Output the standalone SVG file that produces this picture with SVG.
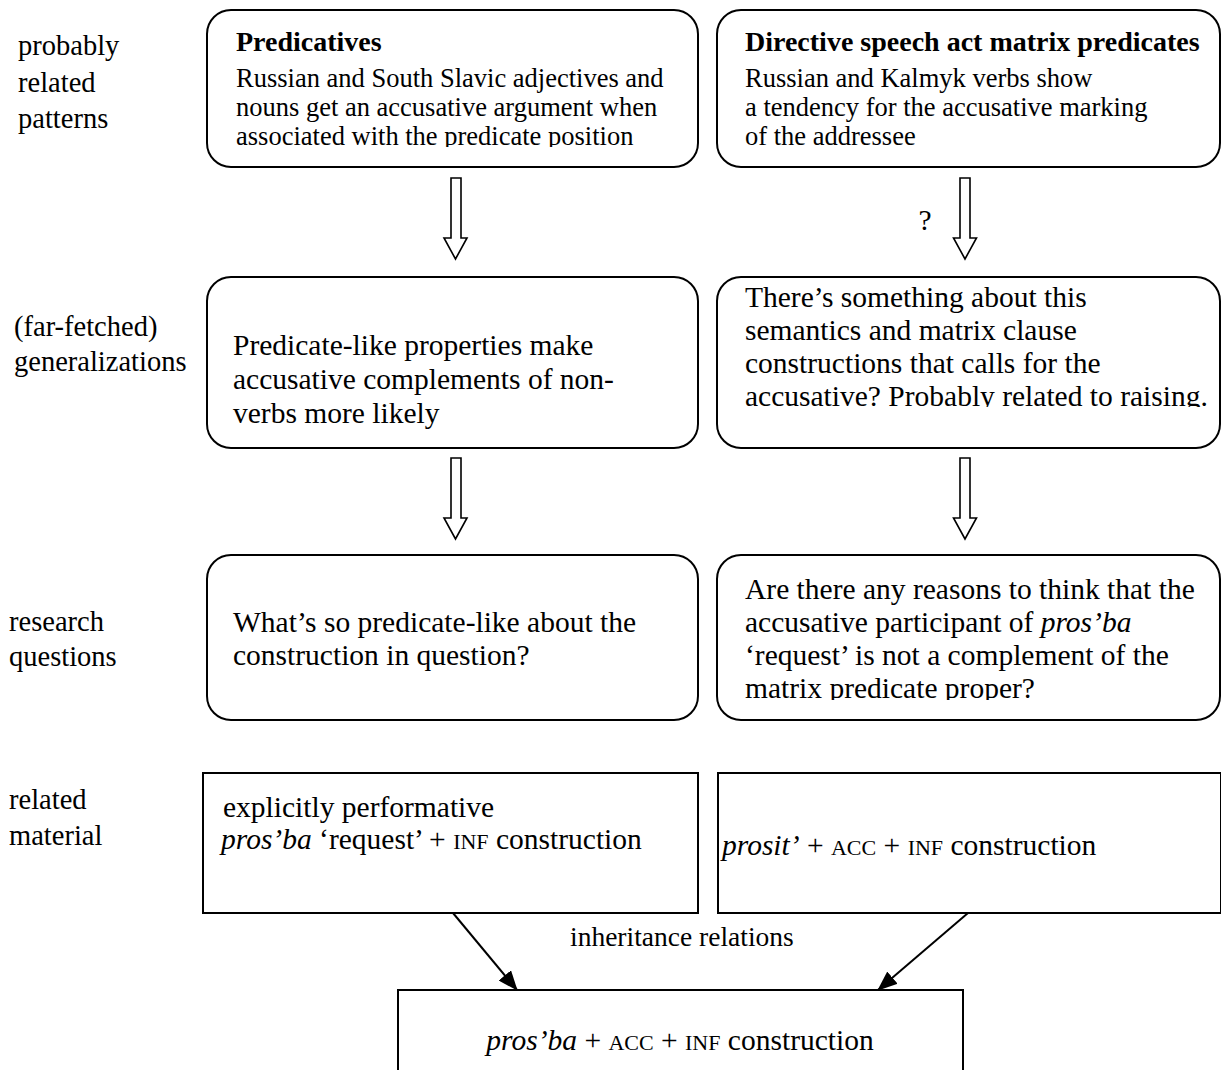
<svg xmlns="http://www.w3.org/2000/svg" width="1221" height="1070" viewBox="0 0 1221 1070">
<style>
text{font-family:"Liberation Serif","Times New Roman",serif;fill:#000}
.lbl{font-size:28.5px}
.hd{font-size:28px;font-weight:bold}
.sm{font-size:26.5px}
.md{font-size:29.5px}
.it{font-style:italic}
.sc{font-size:22px}
.sc2{font-size:20px}
.box{fill:#fff;stroke:#000;stroke-width:2}
.blk{fill:#fff;stroke:#000;stroke-width:1.6;stroke-linejoin:miter}
.ln{stroke:#000;stroke-width:2;fill:none}
</style>
<defs>
<marker id="ah" viewBox="0 0 10 10" refX="9" refY="5" markerWidth="10" markerHeight="10" markerUnits="userSpaceOnUse" orient="auto">
<path d="M0,0 L10,5 L0,10 Z" fill="#000"/>
</marker>
<marker id="ah2" viewBox="0 0 20 16" refX="19" refY="8" markerWidth="20" markerHeight="16" markerUnits="userSpaceOnUse" orient="auto">
<path d="M0,0 L20,8 L0,16 Z" fill="#000"/>
</marker>
<clipPath id="c1"><rect x="207" y="10" width="491" height="137"/></clipPath>
<clipPath id="c2"><rect x="717" y="277" width="504" height="130"/></clipPath>
<clipPath id="c3"><rect x="717" y="555" width="504" height="145"/></clipPath>
</defs>

<g id="labels">
<text class="lbl" x="18" y="55">probably</text>
<text class="lbl" x="18" y="92">related</text>
<text class="lbl" x="18" y="128">patterns</text>
<text class="lbl" x="14" y="336">(far-fetched)</text>
<text class="lbl" x="14" y="371">generalizations</text>
<text class="lbl" x="9" y="631">research</text>
<text class="lbl" x="9" y="666">questions</text>
<text class="lbl" x="9" y="809">related</text>
<text class="lbl" x="9" y="845">material</text>
</g>

<g id="n-predicatives">
<rect class="box" x="207" y="10" width="491" height="157" rx="24"/>
<g clip-path="url(#c1)">
<text class="hd" x="236" y="51">Predicatives</text>
<text class="sm" x="236" y="87">Russian and South Slavic adjectives and</text>
<text class="sm" x="236" y="116">nouns get an accusative argument when</text>
<text class="sm" x="236" y="145">associated with the predicate position</text>
</g>
</g>

<g id="n-directive">
<rect class="box" x="717" y="10" width="503" height="157" rx="24"/>
<text class="hd" x="745" y="51">Directive speech act matrix predicates</text>
<text class="sm" x="745" y="87">Russian and Kalmyk verbs show</text>
<text class="sm" x="745" y="116">a tendency for the accusative marking</text>
<text class="sm" x="745" y="145">of the addressee</text>
</g>

<g id="n-gen-left">
<rect class="box" x="207" y="277" width="491" height="171" rx="24"/>
<text class="md" x="233" y="355">Predicate-like properties make</text>
<text class="md" x="233" y="389">accusative complements of non-</text>
<text class="md" x="233" y="423">verbs more likely</text>
</g>

<g id="n-gen-right">
<rect class="box" x="717" y="277" width="503" height="171" rx="24"/>
<g clip-path="url(#c2)">
<text class="md" x="745" y="307">There’s something about this</text>
<text class="md" x="745" y="340">semantics and matrix clause</text>
<text class="md" x="745" y="373">constructions that calls for the</text>
<text class="md" x="745" y="406">accusative? Probably related to raising.</text>
</g>
</g>

<g id="n-rq-left">
<rect class="box" x="207" y="555" width="491" height="165" rx="24"/>
<text class="md" x="233" y="632">What’s so predicate-like about the</text>
<text class="md" x="233" y="665">construction in question?</text>
</g>

<g id="n-rq-right">
<rect class="box" x="717" y="555" width="503" height="165" rx="24"/>
<g clip-path="url(#c3)">
<text class="md" x="745" y="599">Are there any reasons to think that the</text>
<text class="md" x="745" y="632">accusative participant of <tspan class="it">pros’ba</tspan></text>
<text class="md" x="745" y="665">‘request’ is not a complement of the</text>
<text class="md" x="745" y="698">matrix predicate proper?</text>
</g>
</g>

<g id="n-mat-left">
<rect class="box" x="203" y="773" width="495" height="140"/>
<text class="md" x="223" y="817">explicitly performative</text>
<text class="md" x="221" y="849"><tspan class="it">pros’ba</tspan> ‘request’ + <tspan class="sc">INF</tspan> construction</text>
</g>

<g id="n-mat-right">
<rect class="box" x="718" y="773" width="503" height="140"/>
<text class="md" x="722" y="855"><tspan class="it">prosit’</tspan> + <tspan class="sc">ACC</tspan> + <tspan class="sc">INF</tspan> construction</text>
</g>

<g id="n-target">
<rect class="box" x="398" y="990" width="565" height="100"/>
<text class="md" x="680" y="1050" text-anchor="middle"><tspan class="it">pros’ba</tspan> + <tspan class="sc">ACC</tspan> + <tspan class="sc">INF</tspan> construction</text>
</g>

<g id="connectors">
<polygon class="blk" points="451,178 461,178 461,238 467,238 455.5,259 444,238 451,238"/>
<polygon class="blk" points="960,178 970,178 970,238 976.5,238 965,259 953.5,238 960,238"/>
<polygon class="blk" points="451,458 461,458 461,518 467,518 455.5,539 444,518 451,518"/>
<polygon class="blk" points="960,458 970,458 970,518 976.5,518 965,539 953.5,518 960,518"/>
<text class="md" x="925" y="230" text-anchor="middle">?</text>
<line class="ln" x1="453" y1="913" x2="517" y2="990" marker-end="url(#ah2)"/>
<line class="ln" x1="968" y1="913" x2="878" y2="990" marker-end="url(#ah2)"/>
<text class="sm" x="570" y="946" style="font-size:27.5px">inheritance relations</text>
</g>
</svg>
